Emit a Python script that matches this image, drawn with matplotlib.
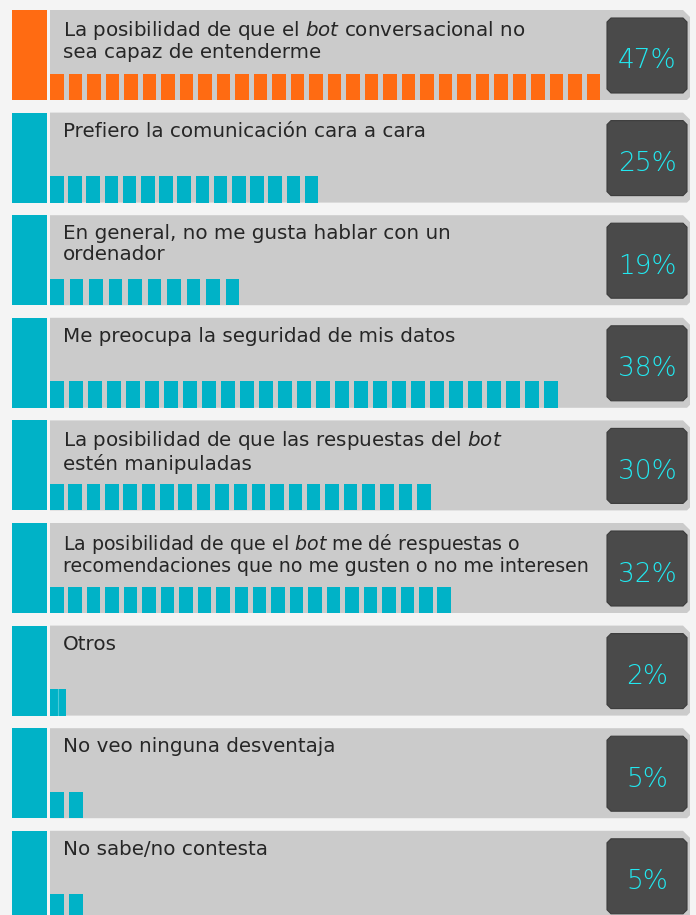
import matplotlib
matplotlib.use("Agg")
import matplotlib.pyplot as plt
import matplotlib.patches as mpatches

# data
labels = [
    "La posibilidad de que el $\\mathit{bot}$ conversacional no\nsea capaz de entenderme",
    "Prefiero la comunicación cara a cara",
    "En general, no me gusta hablar con un\nordenador",
    "Me preocupa la seguridad de mis datos",
    "La posibilidad de que las respuestas del $\\mathit{bot}$\nestén manipuladas",
    "La posibilidad de que el $\\mathit{bot}$ me dé respuestas o\nrecomendaciones que no me gusten o no me interesen",
    "Otros",
    "No veo ninguna desventaja",
    "No sabe/no contesta",
]
values = [47, 25, 19, 38, 30, 32, 2, 5, 5]
segments = [30, 15, 10, 27, 21, 22, 2, 2, 2]
highlight = [True, False, False, False, False, False, False, False, False]

# per-row segment look (width / spacing of the little blocks)
seg_widths = [13.5, 13.5, 13.5, 13.5, 13.5, 13.5, 8, 13.5, 13.5]
pitches = [18.5, 18.2, 19.5, 19.0, 18.35, 18.45, 8, 19.0, 19.0]
label_sizes = [14.3, 14.3, 14.3, 14.3, 14.3, 13.7, 14.3, 14.3, 14.3]

ORANGE = "#ff6b12"
CYAN = "#00b2c7"
PANEL = "#cbcbcb"
BOX = "#4a4a4a"
PCT = "#22e8f0"

W, H = 696, 915
fig = plt.figure(figsize=(W / 100, H / 100), dpi=100)
fig.patch.set_facecolor("#f4f4f4")
ax = fig.add_axes([0, 0, 1, 1])
ax.set_xlim(0, W)
ax.set_ylim(H, 0)
ax.axis("off")

row_h = 90
step = 102.6
x0 = 50

for i, (lab, val, nseg, hl) in enumerate(zip(labels, values, segments, highlight)):
    top = 10 + i * step
    bot = top + row_h
    col = ORANGE if hl else CYAN
    sw, p, fs = seg_widths[i], pitches[i], label_sizes[i]

    # side block
    ax.add_patch(mpatches.Rectangle((12, top), 35, row_h, facecolor=col, edgecolor="none"))

    # gray panel with chamfered right corners
    panel = [(x0, top), (683, top), (690, top + 7), (690, bot - 3), (687, bot), (x0, bot)]
    ax.add_patch(mpatches.Polygon(panel, closed=True, facecolor=PANEL, edgecolor="none"))

    # segmented bar
    for k in range(nseg):
        ax.add_patch(mpatches.Rectangle((x0 + k * p, bot - 26.5), sw, 26.5,
                                        facecolor=col, edgecolor="none"))
        if k > 0 and p == sw:
            ax.plot([x0 + k * p] * 2, [bot - 26.5, bot], color="white", alpha=0.3, lw=0.8)

    # label
    ax.text(63, top + 9, lab, ha="left", va="top", fontsize=fs,
            color="#262626", linespacing=1.1, family="DejaVu Sans")

    # percent box
    bx0, bx1, by0, by1 = 607, 687, top + 8, top + 83
    c = 4
    box = [(bx0 + c, by0), (bx1 - c, by0), (bx1, by0 + c), (bx1, by1 - c),
           (bx1 - c, by1), (bx0 + c, by1), (bx0, by1 - c), (bx0, by0 + c)]
    ax.add_patch(mpatches.Polygon(box, closed=True, facecolor=BOX, edgecolor="#3c3c3c",
                                  linewidth=0.8))
    ax.text((bx0 + bx1) / 2, top + 51, f"{val}%", ha="center", va="center",
            fontsize=19, color=PCT, family="DejaVu Sans", fontweight="light")

fig.savefig("out.png", dpi=100, facecolor=fig.get_facecolor())
